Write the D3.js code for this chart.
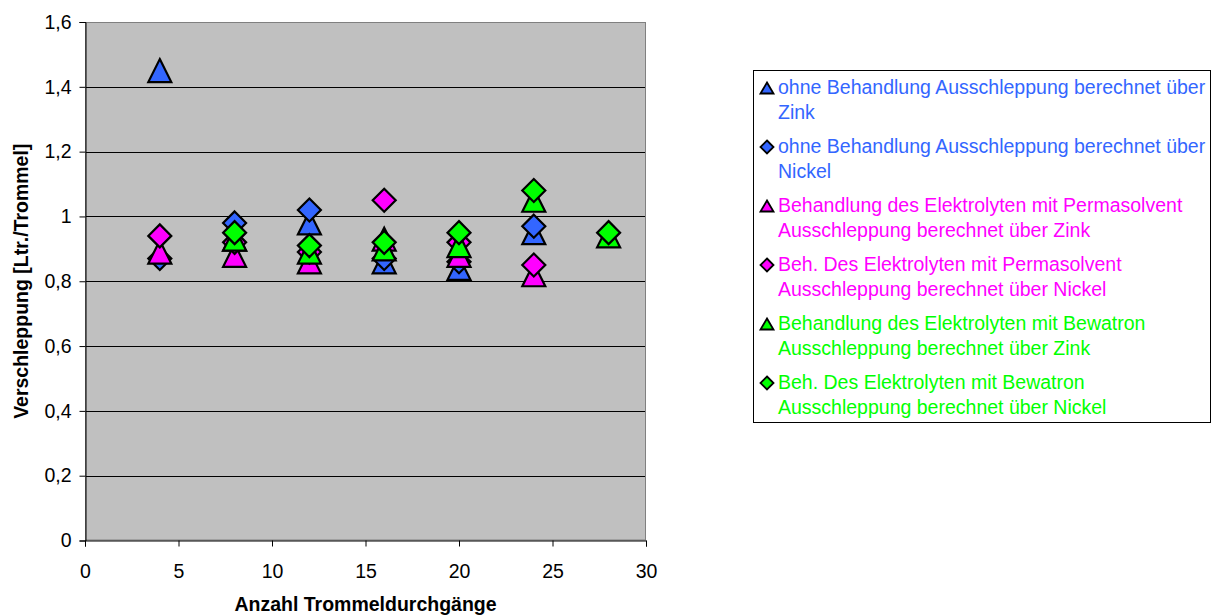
<!DOCTYPE html>
<html>
<head>
<meta charset="utf-8">
<script src="https://cdn.jsdelivr.net/npm/d3@7"></script>
<style>
  html, body { margin: 0; padding: 0; background: #ffffff; }
  svg { display: block; font-family: Arial, "Liberation Sans", sans-serif; }
</style>
</head>
<body>
<svg id="chart" width="1215" height="616"></svg>
<script>
// Trommeldurchgänge (x) shared by all series
const passes = [4, 8, 12, 16, 20, 24, 28];

// Verschleppung [Ltr./Trommel]; null = no measurement
const ohneZink        = [1.45, 0.93, 0.98, 0.86, 0.84, 0.95, null];
const ohneNickel      = [0.87, 0.98, 1.02, 0.87, 0.86, 0.97, null];
const permaZink       = [0.89, 0.88, 0.86, 0.93, 0.88, 0.82, null];
const permaNickel     = [0.94, 0.92, 0.89, 1.05, 0.92, 0.85, null];
const bewatronZink    = [null, 0.93, 0.89, 0.90, 0.91, 1.05, 0.94];
const bewatronNickel  = [null, 0.95, 0.91, 0.92, 0.95, 1.08, 0.95];

const xTicks = [0, 5, 10, 15, 20, 25, 30];
const yTicks = [0, 0.2, 0.4, 0.6, 0.8, 1.0, 1.2, 1.4, 1.6];

const seriesNames = [
  ["ohne Behandlung Ausschleppung berechnet über", "Zink"],
  ["ohne Behandlung Ausschleppung berechnet über", "Nickel"],
  ["Behandlung des Elektrolyten mit Permasolvent", "Ausschleppung berechnet über Zink"],
  ["Beh. Des Elektrolyten mit Permasolvent", "Ausschleppung berechnet über Nickel"],
  ["Behandlung des Elektrolyten mit Bewatron", "Ausschleppung berechnet über Zink"],
  ["Beh. Des Elektrolyten mit Bewatron", "Ausschleppung berechnet über Nickel"]
];
const seriesValues = [ohneZink, ohneNickel, permaZink, permaNickel, bewatronZink, bewatronNickel];
const seriesShapes = ["triangle", "diamond", "triangle", "diamond", "triangle", "diamond"];
const seriesColors = ["#3366ff", "#3366ff", "#ff00ff", "#ff00ff", "#00ff00", "#00ff00"];

const svg = d3.select("#chart");
const plot = { left: 85, top: 22, right: 646, bottom: 540.5 };
const FONT = "Arial, 'Liberation Sans', sans-serif";

const x = d3.scaleLinear().domain([0, 30]).range([plot.left, plot.right]);
const y = d3.scaleLinear().domain([0, 1.6]).range([plot.bottom, plot.top]);

// plot background
svg.append("rect")
  .attr("x", plot.left).attr("y", plot.top)
  .attr("width", plot.right - plot.left).attr("height", plot.bottom - plot.top)
  .attr("fill", "#c0c0c0");

// horizontal gridlines
svg.append("g").selectAll("line")
  .data(yTicks.filter(d => d > 0 && d < 1.6))
  .join("line")
  .attr("x1", plot.left).attr("x2", plot.right)
  .attr("y1", d => Math.round(y(d)) + 0.5).attr("y2", d => Math.round(y(d)) + 0.5)
  .attr("stroke", "#000").attr("stroke-width", 1);

// plot frame
svg.append("rect")
  .attr("x", plot.left + 0.5).attr("y", plot.top + 0.5)
  .attr("width", plot.right - plot.left - 1).attr("height", plot.bottom - plot.top - 1)
  .attr("fill", "none").attr("stroke", "#808080").attr("stroke-width", 1);

const fmt = d => d3.format(".1~f")(d).replace(".", ",");

// y axis
const yAxis = svg.append("g")
  .attr("transform", `translate(${plot.left + 0.5},0)`)
  .call(d3.axisLeft(y).tickValues(yTicks).tickFormat(fmt).tickSize(6).tickPadding(8));
yAxis.select(".domain").attr("stroke", "#000");
yAxis.selectAll(".tick line").attr("stroke", "#000");
yAxis.selectAll("text").attr("font-size", 19.5).attr("fill", "#000").attr("font-family", FONT);

// x axis
const xAxis = svg.append("g")
  .attr("transform", `translate(0,${plot.bottom})`)
  .call(d3.axisBottom(x).tickValues(xTicks).tickFormat(d3.format("d")).tickSize(6).tickPadding(18));
xAxis.select(".domain").attr("stroke", "#000");
xAxis.selectAll(".tick line").attr("stroke", "#000");
xAxis.selectAll("text").attr("font-size", 19.5).attr("fill", "#000").attr("font-family", FONT);

// axis titles
svg.append("text")
  .attr("x", (plot.left + plot.right) / 2).attr("y", 611)
  .attr("text-anchor", "middle").attr("font-size", 19.5).attr("font-weight", "bold")
  .text("Anzahl Trommeldurchgänge");

svg.append("text")
  .attr("transform", `translate(28,${(plot.top + plot.bottom) / 2}) rotate(-90)`)
  .attr("text-anchor", "middle").attr("font-size", 19.5).attr("font-weight", "bold")
  .text("Verschleppung [Ltr./Trommel]");

// marker paths centred at (0,0)
function markerPath(shape, w, h) {
  if (shape === "triangle") {
    return `M0,${-h}L${w},${h}L${-w},${h}Z`;
  }
  return `M0,${-h}L${w},0L0,${h}L${-w},0Z`;
}

// data points, series drawn in order so later ones sit on top
seriesValues.forEach((vals, i) => {
  const pts = passes.map((p, j) => ({ p, v: vals[j] })).filter(d => d.v !== null);
  svg.append("g").selectAll("path")
    .data(pts)
    .join("path")
    .attr("transform", d => `translate(${x(d.p)},${y(d.v)})`)
    .attr("d", markerPath(seriesShapes[i], 11.5, 11.5))
    .attr("fill", seriesColors[i])
    .attr("stroke", "#000").attr("stroke-width", 2.2)
    .attr("stroke-linejoin", "miter");
});

// legend
const legend = svg.append("g");
legend.append("rect")
  .attr("x", 753.5).attr("y", 70.5).attr("width", 457).attr("height", 352)
  .attr("fill", "#fff").attr("stroke", "#000").attr("stroke-width", 1);

seriesNames.forEach((lines, i) => {
  const base = 94 + i * 59;
  const g = legend.append("g");
  g.append("path")
    .attr("transform", `translate(767,${base - 6})`)
    .attr("d", seriesShapes[i] === "triangle" ? markerPath("triangle", 6.5, 5.5) : markerPath("diamond", 6.5, 6.5))
    .attr("fill", seriesColors[i]).attr("stroke", "#000").attr("stroke-width", 1.8);
  lines.forEach((t, k) => {
    g.append("text")
      .attr("x", 778).attr("y", base + k * 25)
      .attr("font-size", 19.5).attr("fill", seriesColors[i])
      .text(t);
  });
});
</script>
</body>
</html>
